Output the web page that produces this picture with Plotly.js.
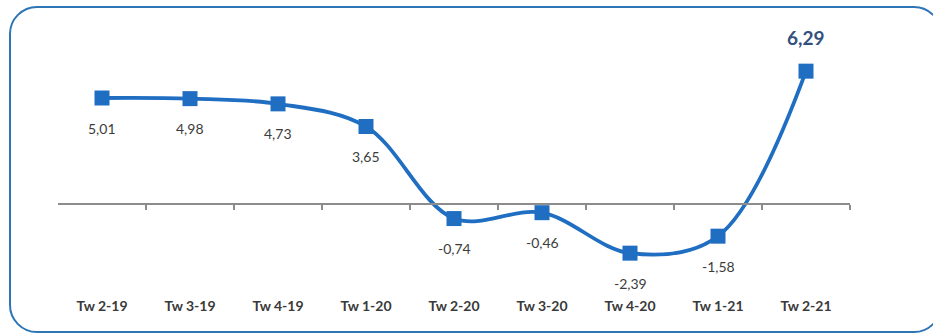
<!DOCTYPE html>
<html>
<head>
<meta charset="utf-8">
<script src="https://cdn.plot.ly/plotly-3.0.1.min.js"></script>
<style>
  html, body { margin: 0; padding: 0; background: #ffffff; overflow: hidden; }
  #wrap { position: relative; width: 933px; height: 335px; }
  #chart { position: absolute; left: 0; top: 0; width: 933px; height: 335px; }
  #frame { position: absolute; left: 9px; top: 6px; width: 933px; height: 327px;
           box-sizing: border-box; border: 2px solid #2E75B6; border-radius: 28px;
           pointer-events: none; }
</style>
</head>
<body>
<div id="wrap">
  <div id="chart"></div>
  <div id="frame"></div>
</div>
<script>
// ---- data ----
const categories = ["Tw 2-19", "Tw 3-19", "Tw 4-19", "Tw 1-20", "Tw 2-20", "Tw 3-20", "Tw 4-20", "Tw 1-21", "Tw 2-21"];
const values = [5.01, 4.98, 4.73, 3.65, -0.74, -0.46, -2.39, -1.58, 6.29];
const labels = values.map(v => v.toFixed(2).replace('.', ','));

const blue = '#1F6EC2';
const lastIdx = values.length - 1;

const trace = {
  type: 'scatter',
  mode: 'lines+markers',
  x: categories,
  y: values,
  line: { color: blue, width: 3.8, shape: 'spline', smoothing: 1 },
  marker: { symbol: 'square', size: 15, color: blue },
  hoverinfo: 'skip',
  showlegend: false
};

// invisible helper trace so the tick-axis at zero is drawn
const helper = {
  type: 'scatter', mode: 'markers',
  x: [0], y: [0], xaxis: 'x2', yaxis: 'y',
  marker: { opacity: 0 }, hoverinfo: 'skip', showlegend: false
};

const annotations = values.map((v, i) => {
  const isLast = i === lastIdx;
  return {
    x: categories[i], y: v, xref: 'x', yref: 'y',
    text: isLast ? '<b>' + labels[i] + '</b>' : labels[i],
    showarrow: false,
    yshift: isLast ? 34 : -30,
    font: isLast ? { family: 'Lato, "Open Sans", sans-serif', size: 19, color: '#34507F' }
                 : { family: 'Lato, "Open Sans", sans-serif', size: 14, color: '#3C3C3C' }
  };
});

const yRange = [-4.29, 8.73];
const zeroPos = (0 - yRange[0]) / (yRange[1] - yRange[0]);
const boundaries = categories.map((_, i) => i + 0.5);

const layout = {
  width: 933, height: 335,
  margin: { l: 58, r: 83, t: 20, b: 42 },
  paper_bgcolor: 'rgba(0,0,0,0)',
  plot_bgcolor: 'rgba(0,0,0,0)',
  xaxis: {
    type: 'category', range: [-0.5, categories.length - 0.5],
    showgrid: false, zeroline: false, showline: false, ticks: '',
    ticklabelstandoff: 3,
    tickfont: { family: 'Lato, "Open Sans", sans-serif', size: 14, color: '#3A3A3A', weight: 'bold' },
    fixedrange: true
  },
  xaxis2: {
    overlaying: 'x', anchor: 'free', position: zeroPos,
    range: [-0.5, categories.length - 0.5],
    showgrid: false, zeroline: false,
    showline: true, linecolor: '#8C8C8C', linewidth: 1.5,
    ticks: 'outside', ticklen: 5, tickwidth: 1.5, tickcolor: '#8C8C8C',
    tickvals: boundaries, showticklabels: false,
    fixedrange: true
  },
  yaxis: {
    range: yRange, showgrid: false, zeroline: false, showline: false,
    showticklabels: false, ticks: '', fixedrange: true
  },
  annotations: annotations
};

Plotly.newPlot('chart', [helper, trace], layout, { displayModeBar: false, staticPlot: true });
</script>
</body>
</html>
